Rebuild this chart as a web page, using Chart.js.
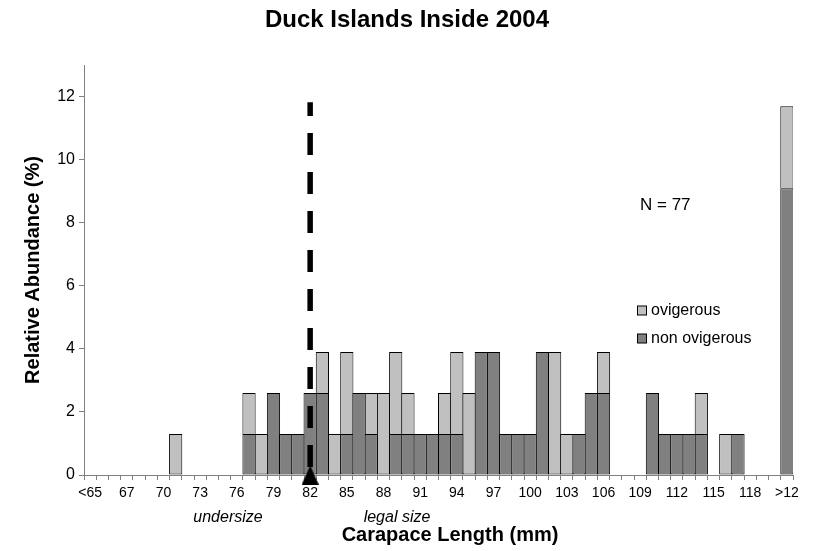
<!DOCTYPE html>
<html>
<head>
<meta charset="utf-8">
<title>Duck Islands Inside 2004</title>
<script src="https://cdn.jsdelivr.net/npm/chart.js@4/dist/chart.umd.min.js"></script>
<style>
  html, body { margin: 0; padding: 0; background: #ffffff; }
  #wrap { width: 814px; height: 551px; }
</style>
</head>
<body>
<div id="wrap"><canvas id="chart" width="814" height="551"></canvas></div>
<script>
// Carapace length classes (mm), one bar per class
const categories = [
  '<65', '65', '66', '67', '68', '69', '70', '71', '72', '73',
  '74', '75', '76', '77', '78', '79', '80', '81', '82', '83',
  '84', '85', '86', '87', '88', '89', '90', '91', '92', '93',
  '94', '95', '96', '97', '98', '99', '100', '101', '102', '103',
  '104', '105', '106', '107', '108', '109', '110', '111', '112', '113',
  '114', '115', '116', '117', '118', '119', '120', '>12'
];

// Relative abundance (%) of non ovigerous animals per class
const nonOvigerous = [
  0, 0, 0, 0, 0, 0, 0, 0, 0, 0,
  0, 0, 0, 1.30, 0, 2.60, 1.30, 1.30, 2.60, 2.60,
  0, 1.30, 2.60, 1.30, 0, 1.30, 1.30, 1.30, 1.30, 1.30,
  1.30, 0, 3.90, 3.90, 1.30, 1.30, 1.30, 3.90, 0, 0,
  1.30, 2.60, 2.60, 0, 0, 0, 2.60, 1.30, 1.30, 1.30,
  1.30, 0, 0, 1.30, 0, 0, 0, 9.09
];

// Relative abundance (%) of ovigerous animals per class
const ovigerous = [
  0, 0, 0, 0, 0, 0, 0, 1.30, 0, 0,
  0, 0, 0, 1.30, 1.30, 0, 0, 0, 0, 1.30,
  1.30, 2.60, 0, 1.30, 2.60, 2.60, 1.30, 0, 0, 1.30,
  2.60, 2.60, 0, 0, 0, 0, 0, 0, 3.90, 1.30,
  0, 0, 1.30, 0, 0, 0, 0, 0, 0, 0,
  1.30, 0, 1.30, 0, 0, 0, 0, 2.60
];

// Minimum legal size class and the height of the cutoff marker line (%)
const legalSize = '82';
const cutoffTop = 11.82;

// Y axis tick values
const yTicks = [0, 2, 4, 6, 8, 10, 12];

// Text drawn on the chart
const chartTitle = 'Duck Islands Inside 2004';
const xTitle = 'Carapace Length (mm)';
const yTitle = 'Relative Abundance (%)';
const sampleLabel = 'N = 77';
const undersizeLabel = 'undersize';
const legalLabel = 'legal size';

const FONT = "'Liberation Sans', Arial, Helvetica, sans-serif";
Chart.defaults.font.family = FONT;
Chart.defaults.color = '#000000';

// Solid black triangle used as the marker at the foot of the cutoff line
function makeTriangle(w, h) {
  const c = document.createElement('canvas');
  c.width = w; c.height = h;
  const g = c.getContext('2d');
  g.fillStyle = '#000000';
  g.beginPath();
  g.moveTo(w / 2, 0);
  g.lineTo(w, h);
  g.lineTo(0, h);
  g.closePath();
  g.fill();
  return c;
}
const triangle = makeTriangle(17, 19);

// Free text, the legend and the axis title below the category labels
const notesPlugin = {
  id: 'notes',
  afterDraw(chart) {
    const ctx = chart.ctx;
    ctx.save();
    ctx.fillStyle = '#000000';
    ctx.textBaseline = 'middle';

    ctx.textAlign = 'left';
    ctx.font = '17px ' + FONT;
    ctx.fillText(sampleLabel, 640, 205);

    // legend: top series first
    const bars = chart.data.datasets.filter(d => d.type !== 'line').slice().reverse();
    ctx.font = '16px ' + FONT;
    bars.forEach((ds, i) => {
      const y = 310.5 + i * 28;
      ctx.fillStyle = ds.backgroundColor;
      ctx.fillRect(637.5, y - 4.5, 9, 9);
      ctx.strokeStyle = '#000000';
      ctx.lineWidth = 1;
      ctx.strokeRect(637.5, y - 4.5, 9, 9);
      ctx.fillStyle = '#000000';
      ctx.fillText(ds.label, 651, y);
    });

    ctx.textAlign = 'center';
    ctx.font = 'italic 16px ' + FONT;
    ctx.fillText(undersizeLabel, 228, 518);
    ctx.fillText(legalLabel, 397, 518);

    ctx.font = 'bold 20px ' + FONT;
    ctx.fillText(xTitle, 450, 535);
    ctx.restore();
  }
};

const zeroless = ctx => (ctx.raw > 0 ? 1 : 0);

new Chart(document.getElementById('chart'), {
  type: 'bar',
  data: {
    labels: categories,
    datasets: [
      {
        type: 'line',
        label: 'legal size limit',
        data: [{ x: legalSize, y: 0 }, { x: legalSize, y: cutoffTop }],
        stack: 'cutoff',
        order: -1,
        borderColor: '#000000',
        borderWidth: 5.5,
        borderDash: [22, 17],
        borderDashOffset: 31,
        borderCapStyle: 'butt',
        pointStyle: triangle,
        pointRadius: [9, 0],
        pointHoverRadius: 0,
        fill: false,
        clip: false
      },
      {
        label: 'non ovigerous',
        data: nonOvigerous,
        backgroundColor: '#808080',
        borderColor: '#000000',
        borderWidth: zeroless,
        borderSkipped: false,
        barPercentage: 1,
        categoryPercentage: 1.082
      },
      {
        label: 'ovigerous',
        data: ovigerous,
        backgroundColor: '#C0C0C0',
        borderColor: '#000000',
        borderWidth: zeroless,
        borderSkipped: ctx => (nonOvigerous[ctx.dataIndex] > 0 ? 'start' : false),
        barPercentage: 1,
        categoryPercentage: 1.082
      }
    ]
  },
  options: {
    responsive: false,
    animation: false,
    events: [],
    layout: { padding: { left: 21, right: 21, top: 0, bottom: 0 } },
    plugins: {
      legend: { display: false },
      tooltip: { enabled: false },
      title: {
        display: true,
        text: chartTitle,
        font: { size: 24, weight: 'bold', lineHeight: 1.2 },
        color: '#000000',
        padding: { top: 6, bottom: 30.2 }
      }
    },
    scales: {
      x: {
        stacked: true,
        offset: true,
        grid: {
          offset: true,
          drawOnChartArea: false,
          drawTicks: true,
          tickLength: 5,
          color: '#808080'
        },
        border: { color: '#808080', width: 1 },
        ticks: {
          autoSkip: false,
          maxRotation: 0,
          minRotation: 0,
          padding: 5,
          font: { size: 14 },
          color: '#000000',
          callback: (value, index) => (index % 3 === 0 ? categories[index] : '')
        },
        afterFit: scale => { scale.height = 76; }
      },
      y: {
        stacked: true,
        min: 0,
        max: 13,
        afterBuildTicks: scale => {
          scale.ticks = yTicks.map(v => ({ value: v }));
        },
        grid: {
          drawOnChartArea: false,
          drawTicks: true,
          tickLength: 5,
          color: '#808080'
        },
        border: { color: '#808080', width: 1 },
        ticks: { font: { size: 16 }, color: '#000000', padding: 4 },
        title: {
          display: true,
          text: yTitle,
          font: { size: 20, weight: 'bold', lineHeight: 1.2 },
          color: '#000000',
          padding: { top: 0, bottom: 0 }
        },
        afterFit: scale => { scale.width = 63; }
      }
    }
  },
  plugins: [notesPlugin]
});
</script>
</body>
</html>
